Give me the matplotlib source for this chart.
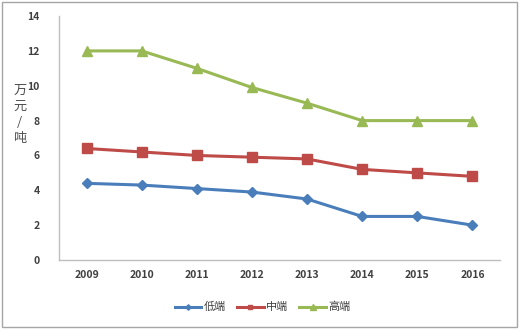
import matplotlib
matplotlib.use("Agg")
import matplotlib.pyplot as plt
from matplotlib.patches import Rectangle

plt.rcParams['font.family'] = ['Noto Sans CJK SC', 'DejaVu Sans']

years = ['2009', '2010', '2011', '2012', '2013', '2014', '2015', '2016']
low = [4.4, 4.3, 4.1, 3.9, 3.5, 2.5, 2.5, 2.0]
mid = [6.4, 6.2, 6.0, 5.9, 5.8, 5.2, 5.0, 4.8]
high = [12, 12, 11, 9.9, 9, 8, 8, 8]
names = ['低端', '中端', '高端']
yticks = [0, 2, 4, 6, 8, 10, 12, 14]

fig = plt.figure(figsize=(5.2, 3.31), dpi=100)
fig.patches.append(Rectangle((0.004, 0.012), 0.99, 0.982, transform=fig.transFigure,
                             fill=False, edgecolor='#A6A6A6', linewidth=1))
ax = fig.add_axes([0.1135, 0.2145, 0.848, 0.737])
x = list(range(len(years)))
ax.plot(x, low, color='#4A7EBB', marker='D', markersize=5, linewidth=2.2, label=names[0])
ax.plot(x, mid, color='#BE4B48', marker='s', markersize=6.5, linewidth=2.2, label=names[1])
ax.plot(x, high, color='#98B954', marker='^', markersize=7, linewidth=2.2, label=names[2])

ax.set_xlim(-0.5, len(years) - 0.5)
ax.set_ylim(0, 14)
ax.set_xticks(x)
ax.set_xticklabels(years)
ax.set_yticks(yticks)
ax.set_yticklabels([str(v) for v in yticks])
for lab in ax.get_xticklabels() + ax.get_yticklabels():
    lab.set_fontweight('bold')
    lab.set_fontsize(7.5)
    lab.set_color('#404040')
ax.tick_params(length=0, pad=7)
ax.tick_params(axis='y', pad=14)
for s in ['top', 'right']:
    ax.spines[s].set_visible(False)
for s in ['left', 'bottom']:
    ax.spines[s].set_color('#BFBFBF')
    ax.spines[s].set_linewidth(1)

fig.text(0.038, 0.655, '万\n元\n/\n吨', ha='center', va='center', fontsize=9.5,
         color='#505050', linespacing=1.3)

leg = fig.legend(loc='center', bbox_to_anchor=(0.505, 0.072), ncol=3, frameon=False,
                 fontsize=8, handlelength=2.4, columnspacing=1.0, handletextpad=0.2,
                 labelcolor='#404040', markerscale=0.55)
fig.savefig('out.png', dpi=100)
